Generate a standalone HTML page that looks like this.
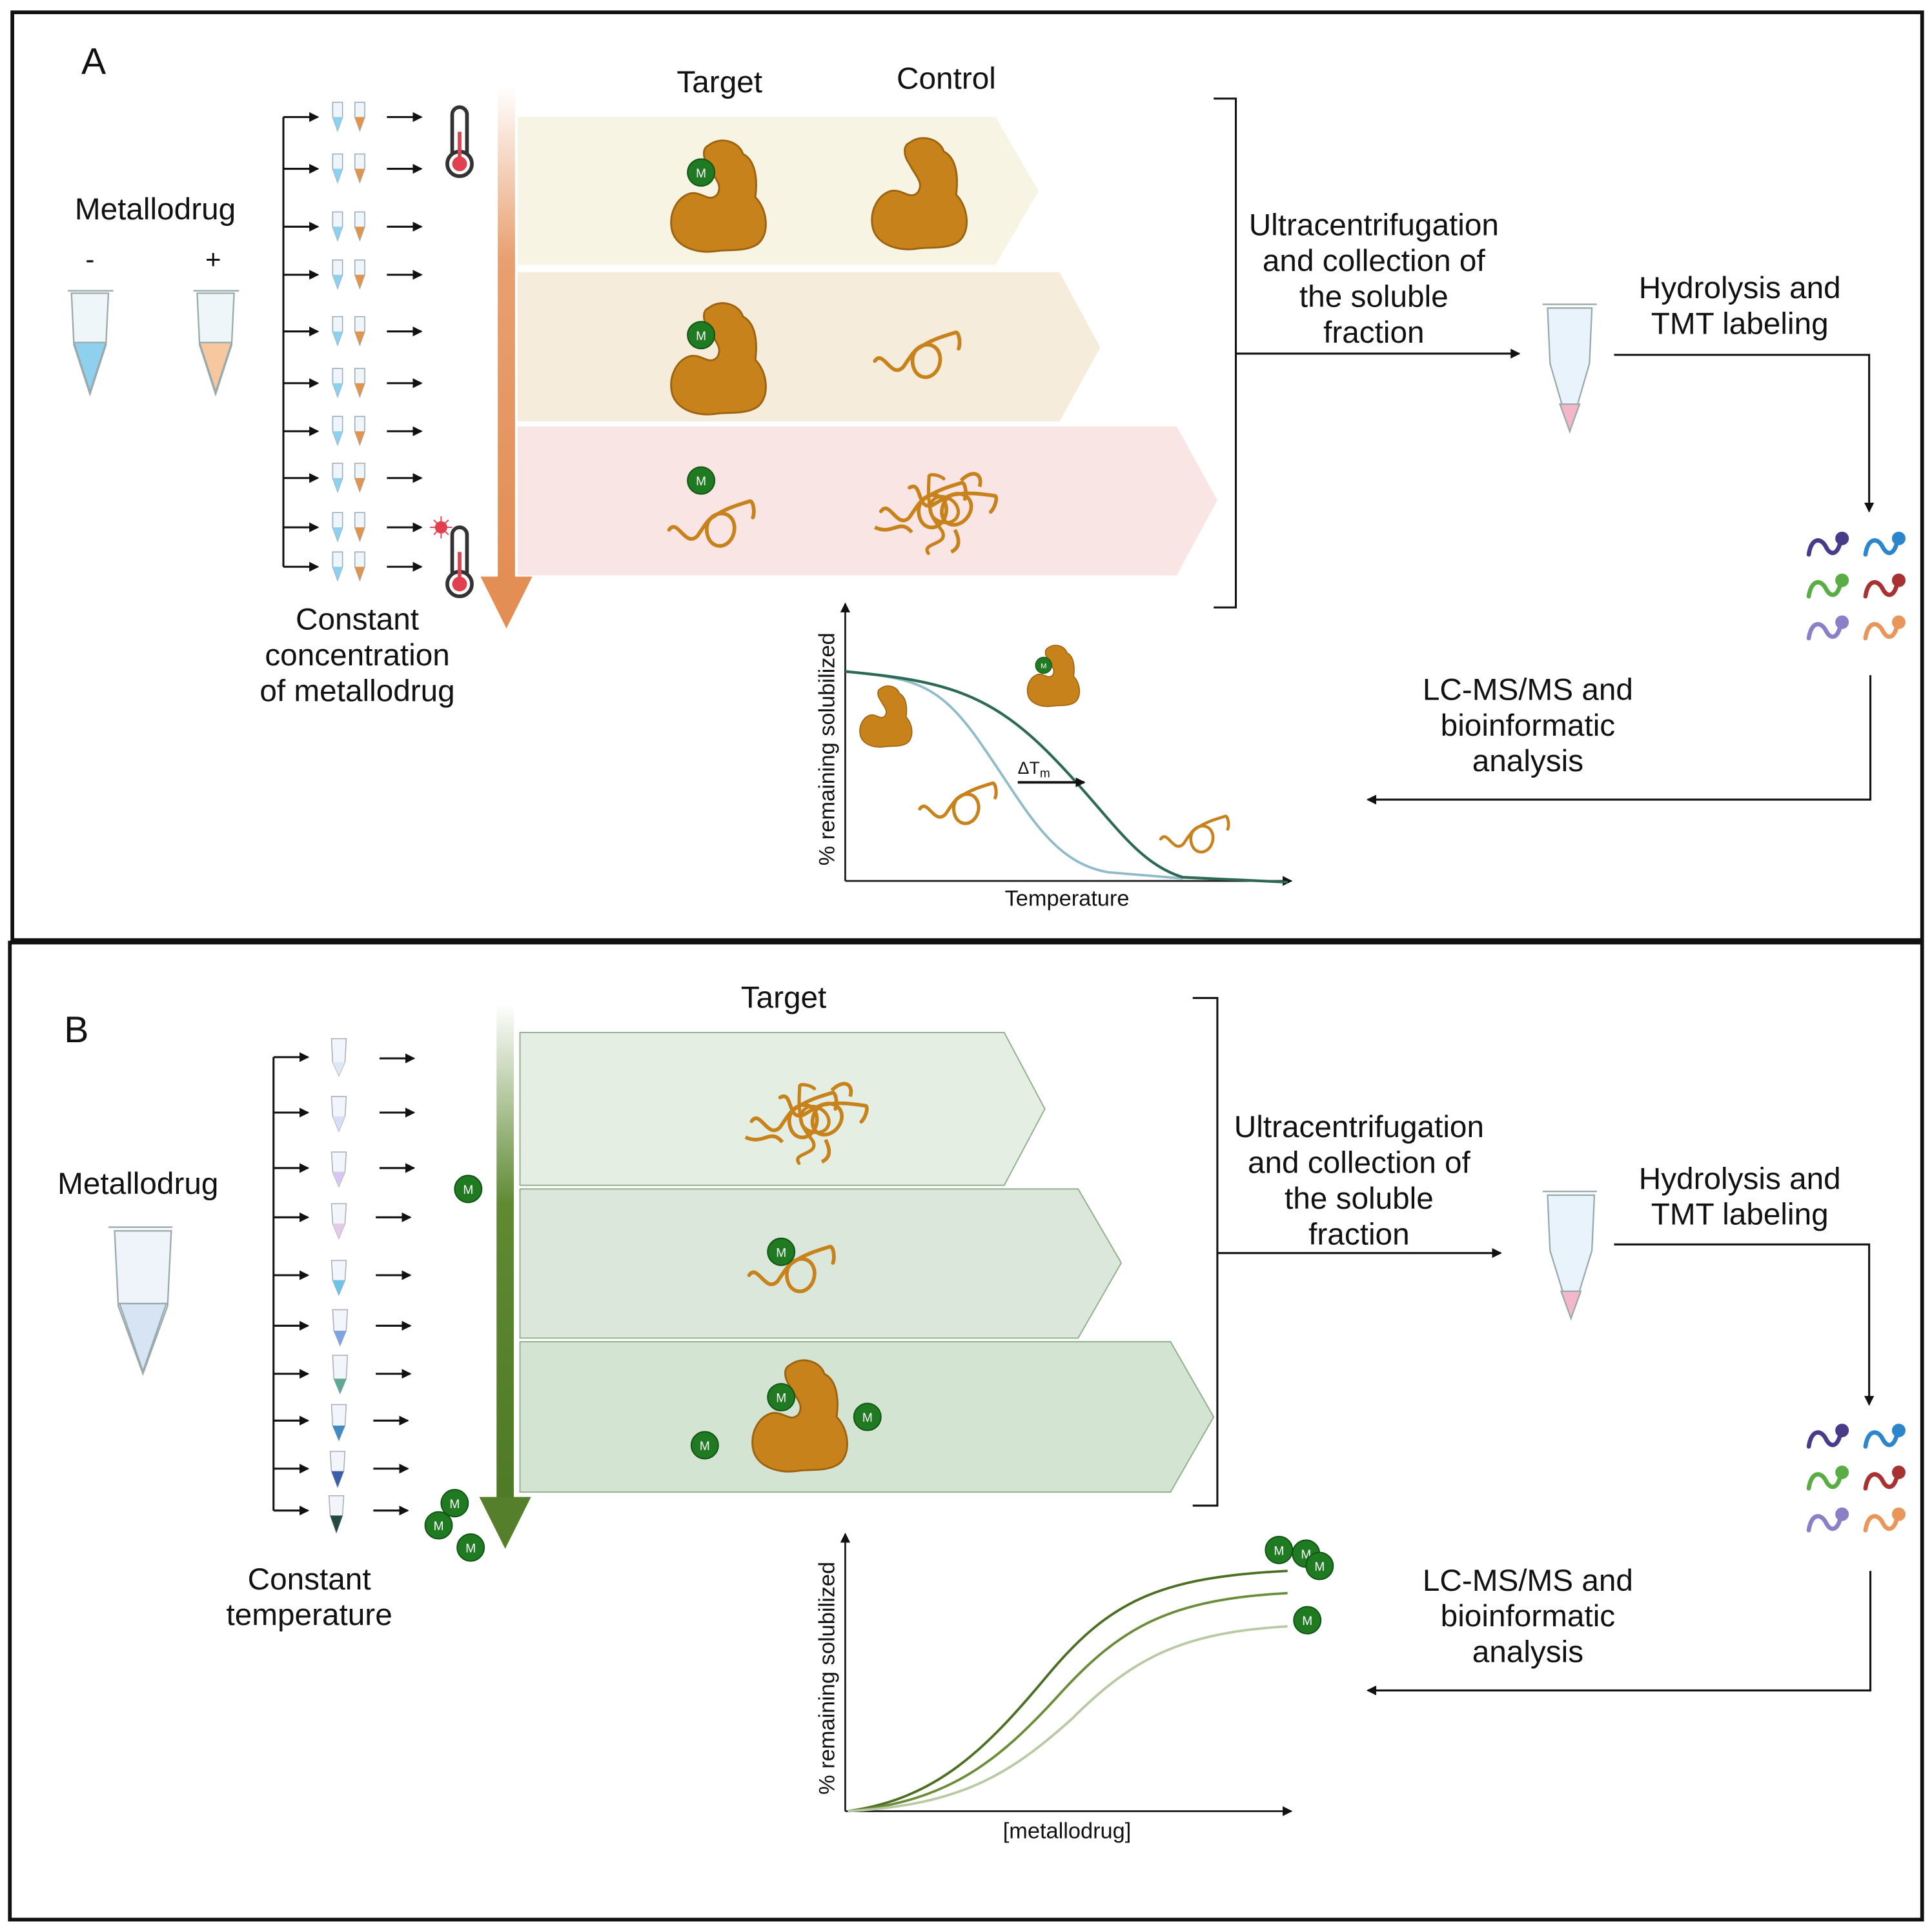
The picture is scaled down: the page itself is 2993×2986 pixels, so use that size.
<!DOCTYPE html>
<html><head><meta charset="utf-8"><style>
html,body{margin:0;padding:0;background:#fff}
svg{display:block}
text{font-family:"Liberation Sans",sans-serif;fill:#111}
</style></head><body>
<svg width="2993" height="2986" viewBox="0 0 1568 1564" preserveAspectRatio="none" xmlns="http://www.w3.org/2000/svg">
<defs>
<marker id="ah" markerWidth="8" markerHeight="8" refX="7" refY="4" orient="auto" markerUnits="userSpaceOnUse"><path d="M0,0 L8,4 L0,8 Z" fill="#111"/></marker>
<linearGradient id="og" x1="0" y1="0" x2="0" y2="1"><stop offset="0" stop-color="#fff"/><stop offset="0.35" stop-color="#e8a070"/><stop offset="1" stop-color="#e38e55"/></linearGradient>
<linearGradient id="gg" x1="0" y1="0" x2="0" y2="1"><stop offset="0" stop-color="#fff"/><stop offset="0.4" stop-color="#5f8a32"/><stop offset="1" stop-color="#4f7a25"/></linearGradient>
<g id="blob"><path d="M-10,-42 C0,-50 15,-45 18,-35 C28,-30 30,-15 28,0 C38,10 40,30 30,38 C20,45 5,42 -5,44 C-20,46 -38,40 -40,25 C-42,12 -35,0 -25,-3 C-15,-5 -10,5 -3,-2 C2,-10 -5,-15 -10,-25 C-15,-32 -15,-40 -10,-42 Z" fill="#c8821c" stroke="#9c620e" stroke-width="1.5"/></g>
<g id="sq"><path d="M-35,5 C-28,-5 -22,20 -12,10 C-5,0 0,-10 10,-8 C22,-5 20,15 8,18 C-5,20 -8,0 0,-5 C10,-12 20,-15 30,-18 C33,-20 35,-10 33,-5" fill="none" stroke="#c8821c" stroke-width="3" stroke-linecap="round"/></g>
<g id="tang"><use href="#sq"/><use href="#sq" transform="translate(22,-4) rotate(25)"/><use href="#sq" transform="translate(10,8) rotate(-70) scale(0.9)"/><path d="M-40,18 C-25,25 -20,10 -10,22 M30,-20 C40,-30 48,-25 45,-15 M25,20 C30,30 28,35 22,38" fill="none" stroke="#c8821c" stroke-width="3"/></g>
<g id="m"><circle r="11" fill="#1f7a22" stroke="#0f5212" stroke-width="1"/><text y="4" text-anchor="middle" font-size="10" style="fill:#fff">M</text></g>
<g id="pep"><path d="M-14,8 C-12,-6 -4,-6 0,2 C4,10 10,8 12,-4" fill="none" stroke-width="3.5" stroke-linecap="round"/><circle cx="13" cy="-5" r="5"/></g>
<g id="thermo"><rect x="-6" y="-28" width="12" height="44" rx="6" fill="#fff" stroke="#333" stroke-width="3"/><circle cy="18" r="10" fill="#fff" stroke="#333" stroke-width="3"/><circle cy="18" r="6" fill="#e04050"/><rect x="-1.5" y="-8" width="3" height="26" fill="#e04050"/></g>
</defs>
<rect x="0" y="0" width="1568" height="1564" fill="#fff"/>
<rect x="10" y="10" width="1550" height="753" fill="none" stroke="#111" stroke-width="3"/>
<rect x="8" y="765" width="1552" height="793" fill="none" stroke="#111" stroke-width="3"/>

<!-- PANEL A -->
<text x="66" y="60" font-size="30">A</text>
<text x="126" y="178" font-size="25" text-anchor="middle">Metallodrug</text>
<text x="73" y="218" font-size="22" text-anchor="middle">-</text>
<text x="173" y="218" font-size="22" text-anchor="middle">+</text>
<g stroke="#9aa" stroke-width="1.2">
<path d="M55,236 H92 M58,238 L60,280 L73,320 L86,280 L88,238 Z" fill="#eef6fa"/>
<path d="M60,278 L73,318 L86,278 Z" fill="#8fd0ee"/>
<path d="M157,236 H194 M160,238 L162,280 L175,320 L188,280 L190,238 Z" fill="#eef6fa"/>
<path d="M162,278 L175,318 L188,278 Z" fill="#f7c7a0"/>
</g>
<path d="M230,95 V460" fill="none" stroke="#111" stroke-width="1.6"/>
<g stroke="#111" stroke-width="1.6">
<line x1="230" y1="95" x2="258" y2="95" marker-end="url(#ah)"/><line x1="230" y1="137" x2="258" y2="137" marker-end="url(#ah)"/><line x1="230" y1="184" x2="258" y2="184" marker-end="url(#ah)"/><line x1="230" y1="223" x2="258" y2="223" marker-end="url(#ah)"/><line x1="230" y1="269" x2="258" y2="269" marker-end="url(#ah)"/><line x1="230" y1="311" x2="258" y2="311" marker-end="url(#ah)"/><line x1="230" y1="350" x2="258" y2="350" marker-end="url(#ah)"/><line x1="230" y1="388" x2="258" y2="388" marker-end="url(#ah)"/><line x1="230" y1="428" x2="258" y2="428" marker-end="url(#ah)"/><line x1="230" y1="460" x2="258" y2="460" marker-end="url(#ah)"/>
<line x1="314" y1="95" x2="342" y2="95" marker-end="url(#ah)"/><line x1="314" y1="137" x2="342" y2="137" marker-end="url(#ah)"/><line x1="314" y1="184" x2="342" y2="184" marker-end="url(#ah)"/><line x1="314" y1="223" x2="342" y2="223" marker-end="url(#ah)"/><line x1="314" y1="269" x2="342" y2="269" marker-end="url(#ah)"/><line x1="314" y1="311" x2="342" y2="311" marker-end="url(#ah)"/><line x1="314" y1="350" x2="342" y2="350" marker-end="url(#ah)"/><line x1="314" y1="388" x2="342" y2="388" marker-end="url(#ah)"/><line x1="314" y1="428" x2="342" y2="428" marker-end="url(#ah)"/><line x1="314" y1="460" x2="342" y2="460" marker-end="url(#ah)"/>
</g>
<g id="pairA">
<path d="M270,83 L278,83 L278,95 L274,106 L270,95 Z" fill="#eef6fa" stroke="#9ab" stroke-width="0.8"/><path d="M270,95 L278,95 L274,106 Z" fill="#8fd0ee"/>
<path d="M288,83 L296,83 L296,95 L292,106 L288,95 Z" fill="#eef6fa" stroke="#9ab" stroke-width="0.8"/><path d="M288,95 L296,95 L292,106 Z" fill="#e0954f"/>
</g>
<use href="#pairA" y="42"/><use href="#pairA" y="89"/><use href="#pairA" y="128"/><use href="#pairA" y="174"/><use href="#pairA" y="216"/><use href="#pairA" y="255"/><use href="#pairA" y="293"/><use href="#pairA" y="333"/><use href="#pairA" y="365"/>
<use href="#thermo" x="373" y="115"/><use href="#thermo" x="373" y="456"/>
<circle cx="358" cy="428" r="5" fill="#e04050"/><g stroke="#e04050" stroke-width="1"><path d="M358,419 V437 M349,428 H367 M352,422 L364,434 M364,422 L352,434"/></g>
<text font-size="25" text-anchor="middle"><tspan x="290" y="511">Constant</tspan><tspan x="290" y="540">concentration</tspan><tspan x="290" y="569">of metallodrug</tspan></text>
<rect x="404" y="70" width="14" height="400" fill="url(#og)"/>
<path d="M390,468 L432,468 L411,510 Z" fill="#e38e55"/>
<path d="M420,95 L808,95 L843,155 L808,215 L420,215 Z" fill="#f8f4e3"/>
<path d="M420,221 L860,221 L893,282 L860,342 L420,342 Z" fill="#f5ecdc"/>
<path d="M420,346 L955,346 L988,406 L955,467 L420,467 Z" fill="#f9e6e4"/>
<text x="584" y="75" font-size="25" text-anchor="middle">Target</text>
<text x="768" y="72" font-size="25" text-anchor="middle">Control</text>
<use href="#blob" x="585" y="160"/><use href="#m" x="569" y="140"/>
<use href="#blob" x="748" y="158"/>
<use href="#blob" x="585" y="292"/><use href="#m" x="569" y="272"/>
<use href="#sq" x="745" y="288"/>
<use href="#m" x="569" y="390"/><use href="#sq" x="578" y="425"/>
<use href="#tang" x="750" y="410"/>
<path d="M985,80 H1003 V493 H985" fill="none" stroke="#111" stroke-width="1.6"/>
<text font-size="25" text-anchor="middle"><tspan x="1115" y="191">Ultracentrifugation</tspan><tspan x="1115" y="220">and collection of</tspan><tspan x="1115" y="249">the soluble</tspan><tspan x="1115" y="278">fraction</tspan></text>
<line x1="1003" y1="287" x2="1233" y2="287" stroke="#111" stroke-width="1.6" marker-end="url(#ah)"/>
<g stroke="#9aa" stroke-width="1.2"><path d="M1252,247 H1296 M1256,250 L1258,295 L1274,350 L1290,295 L1292,250 Z" fill="#e9f3fb"/><path d="M1266,328 L1274,350 L1282,328 Z" fill="#f4b7c9"/></g>
<text font-size="25" text-anchor="middle"><tspan x="1412" y="242">Hydrolysis and</tspan><tspan x="1412" y="271">TMT labeling</tspan></text>
<path d="M1310,288 H1517 V415" fill="none" stroke="#111" stroke-width="1.6" marker-end="url(#ah)"/>
<g id="peps"><use href="#pep" x="1482" y="442" stroke="#4a3a8a" fill="#4a3a8a"/><use href="#pep" x="1528" y="442" stroke="#2d86cc" fill="#2d86cc"/><use href="#pep" x="1482" y="476" stroke="#5aad45" fill="#5aad45"/><use href="#pep" x="1528" y="476" stroke="#a83232" fill="#a83232"/><use href="#pep" x="1482" y="510" stroke="#8a80c8" fill="#8a80c8"/><use href="#pep" x="1528" y="510" stroke="#e8965a" fill="#e8965a"/></g>
<text font-size="25" text-anchor="middle"><tspan x="1240" y="568">LC-MS/MS and</tspan><tspan x="1240" y="597">bioinformatic</tspan><tspan x="1240" y="626">analysis</tspan></text>
<path d="M1518,548 V649 H1110" fill="none" stroke="#111" stroke-width="1.6" marker-end="url(#ah)"/>
<line x1="686" y1="715" x2="686" y2="490" stroke="#222" stroke-width="1.5" marker-end="url(#ah)"/>
<line x1="686" y1="715" x2="1048" y2="715" stroke="#222" stroke-width="1.5" marker-end="url(#ah)"/>
<text transform="translate(677,608) rotate(-90)" font-size="18" text-anchor="middle">% remaining solubilized</text>
<text x="866" y="735" font-size="18" text-anchor="middle">Temperature</text>
<path d="M686,545 C740,550 760,555 790,595 C830,650 850,700 900,708 L960,713" fill="none" stroke="#8fbcc8" stroke-width="2"/>
<path d="M686,545 C760,552 800,560 850,610 C900,660 920,700 960,712 L1045,716" fill="none" stroke="#2d6a55" stroke-width="2.2"/>
<line x1="826" y1="635" x2="880" y2="635" stroke="#111" stroke-width="2" marker-end="url(#ah)"/>
<text x="826" y="628" font-size="14">ΔT<tspan font-size="10" dy="3">m</tspan></text>
<use href="#blob" transform="translate(720,582) scale(0.55)"/>
<use href="#blob" transform="translate(856,549) scale(0.55)"/><use href="#m" transform="translate(847,540) scale(0.6)"/>
<use href="#sq" transform="translate(778,652) scale(0.9)"/>
<use href="#sq" transform="translate(970,677) scale(0.8)"/>

<!-- PANEL B -->
<text x="52" y="846" font-size="30">B</text>
<text x="112" y="969" font-size="25" text-anchor="middle">Metallodrug</text>
<g stroke="#9aa" stroke-width="1.2"><path d="M88,996 H140 M93,999 L96,1060 L116,1115 L136,1060 L139,999 Z" fill="#eef4fa"/><path d="M97,1058 L116,1113 L135,1058 Z" fill="#d6e4f4"/></g>
<path d="M222,858 V1226" fill="none" stroke="#111" stroke-width="1.6"/>
<g stroke="#111" stroke-width="1.6">
<line x1="222" y1="858" x2="250" y2="858" marker-end="url(#ah)"/><line x1="222" y1="903" x2="250" y2="903" marker-end="url(#ah)"/><line x1="222" y1="948" x2="250" y2="948" marker-end="url(#ah)"/><line x1="222" y1="988" x2="250" y2="988" marker-end="url(#ah)"/><line x1="222" y1="1035" x2="250" y2="1035" marker-end="url(#ah)"/><line x1="222" y1="1076" x2="250" y2="1076" marker-end="url(#ah)"/><line x1="222" y1="1115" x2="250" y2="1115" marker-end="url(#ah)"/><line x1="222" y1="1153" x2="250" y2="1153" marker-end="url(#ah)"/><line x1="222" y1="1192" x2="250" y2="1192" marker-end="url(#ah)"/><line x1="222" y1="1226" x2="250" y2="1226" marker-end="url(#ah)"/>
<line x1="308" y1="859" x2="336" y2="859" marker-end="url(#ah)"/><line x1="308" y1="903" x2="336" y2="903" marker-end="url(#ah)"/><line x1="308" y1="948" x2="336" y2="948" marker-end="url(#ah)"/><line x1="305" y1="988" x2="333" y2="988" marker-end="url(#ah)"/><line x1="305" y1="1035" x2="333" y2="1035" marker-end="url(#ah)"/><line x1="305" y1="1076" x2="333" y2="1076" marker-end="url(#ah)"/><line x1="305" y1="1115" x2="333" y2="1115" marker-end="url(#ah)"/><line x1="303" y1="1153" x2="331" y2="1153" marker-end="url(#ah)"/><line x1="303" y1="1192" x2="331" y2="1192" marker-end="url(#ah)"/><line x1="303" y1="1226" x2="331" y2="1226" marker-end="url(#ah)"/>
</g>
<g stroke="#aab" stroke-width="0.8">
<path d="M269,843 H281 L280,862 L275,873 L270,862 Z" fill="#f2f6fa"/><path d="M270,862 L280,862 L275,873 Z" fill="#dde8f5" stroke="none"/>
<path d="M269,890 H281 L280,906 L275,918 L270,906 Z" fill="#f2f6fa"/><path d="M270,906 L280,906 L275,918 Z" fill="#d8def8" stroke="none"/>
<path d="M269,935 H281 L280,951 L275,963 L270,951 Z" fill="#f2f6fa"/><path d="M270,951 L280,951 L275,963 Z" fill="#d6c8ee" stroke="none"/>
<path d="M269,977 H281 L280,993 L275,1005 L270,993 Z" fill="#f2f6fa"/><path d="M270,993 L280,993 L275,1005 Z" fill="#e2cce8" stroke="none"/>
<path d="M269,1023 H281 L280,1039 L275,1051 L270,1039 Z" fill="#f2f6fa"/><path d="M270,1039 L280,1039 L275,1051 Z" fill="#6ec4e6" stroke="none"/>
<path d="M270,1063 H282 L281,1080 L276,1092 L271,1080 Z" fill="#f2f6fa"/><path d="M271,1080 L281,1080 L276,1092 Z" fill="#7fa4e0" stroke="none"/>
<path d="M270,1100 H282 L281,1119 L276,1131 L271,1119 Z" fill="#f2f6fa"/><path d="M271,1119 L281,1119 L276,1131 Z" fill="#5fa898" stroke="none"/>
<path d="M269,1140 H281 L280,1157 L275,1169 L270,1157 Z" fill="#f2f6fa"/><path d="M270,1157 L280,1157 L275,1169 Z" fill="#3e8cc0" stroke="none"/>
<path d="M268,1178 H280 L279,1194 L274,1207 L269,1194 Z" fill="#f2f6fa"/><path d="M269,1194 L279,1194 L274,1207 Z" fill="#3c5ea8" stroke="none"/>
<path d="M267,1214 H279 L278,1230 L273,1244 L268,1230 Z" fill="#f2f6fa"/><path d="M268,1230 L278,1230 L273,1244 Z" fill="#244a40" stroke="none"/>
</g>
<text font-size="25" text-anchor="middle"><tspan x="251" y="1290">Constant</tspan><tspan x="251" y="1319">temperature</tspan></text>
<use href="#m" x="380" y="965"/>
<use href="#m" x="369" y="1220"/><use href="#m" x="356" y="1238"/><use href="#m" x="382" y="1256"/>
<rect x="403" y="815" width="14" height="405" fill="url(#gg)"/>
<path d="M389,1215 L431,1215 L410,1257 Z" fill="#557f2a"/>
<g stroke="#8fae8c" stroke-width="1">
<path d="M422,838 L815,838 L848,900 L815,962 L422,962 Z" fill="#e4eee3"/>
<path d="M422,965 L875,965 L910,1025 L875,1086 L422,1086 Z" fill="#dbe7da"/>
<path d="M422,1089 L950,1089 L985,1150 L950,1211 L422,1211 Z" fill="#d4e4d3"/>
</g>
<text x="636" y="818" font-size="25" text-anchor="middle">Target</text>
<use href="#tang" x="645" y="905"/>
<use href="#sq" x="643" y="1030"/><use href="#m" x="634" y="1016"/>
<use href="#blob" x="651" y="1150"/><use href="#m" x="634" y="1134"/><use href="#m" x="704" y="1150"/><use href="#m" x="572" y="1173"/>
<path d="M968,810 H988 V1222 H968" fill="none" stroke="#111" stroke-width="1.6"/>
<text font-size="25" text-anchor="middle"><tspan x="1103" y="923">Ultracentrifugation</tspan><tspan x="1103" y="952">and collection of</tspan><tspan x="1103" y="981">the soluble</tspan><tspan x="1103" y="1010">fraction</tspan></text>
<line x1="988" y1="1017" x2="1218" y2="1017" stroke="#111" stroke-width="1.6" marker-end="url(#ah)"/>
<g stroke="#9aa" stroke-width="1.2"><path d="M1252,967 H1296 M1256,970 L1258,1015 L1275,1070 L1292,1015 L1294,970 Z" fill="#e9f3fb"/><path d="M1267,1048 L1275,1070 L1283,1048 Z" fill="#f4b7c9"/></g>
<text font-size="25" text-anchor="middle"><tspan x="1412" y="965">Hydrolysis and</tspan><tspan x="1412" y="994">TMT labeling</tspan></text>
<path d="M1310,1010 H1517 V1140" fill="none" stroke="#111" stroke-width="1.6" marker-end="url(#ah)"/>
<use href="#peps" y="724"/>
<text font-size="25" text-anchor="middle"><tspan x="1240" y="1291">LC-MS/MS and</tspan><tspan x="1240" y="1320">bioinformatic</tspan><tspan x="1240" y="1349">analysis</tspan></text>
<path d="M1518,1275 V1372 H1110" fill="none" stroke="#111" stroke-width="1.6" marker-end="url(#ah)"/>
<line x1="686" y1="1470" x2="686" y2="1245" stroke="#222" stroke-width="1.5" marker-end="url(#ah)"/>
<line x1="686" y1="1470" x2="1048" y2="1470" stroke="#222" stroke-width="1.5" marker-end="url(#ah)"/>
<text transform="translate(677,1362) rotate(-90)" font-size="18" text-anchor="middle">% remaining solubilized</text>
<text x="866" y="1492" font-size="18" text-anchor="middle">[metallodrug]</text>
<path d="M688,1470 C760,1460 800,1420 850,1360 C900,1300 940,1280 1045,1275" fill="none" stroke="#4a6e22" stroke-width="2"/>
<path d="M688,1470 C770,1462 810,1430 860,1375 C910,1320 950,1298 1045,1293" fill="none" stroke="#6b8d3a" stroke-width="2"/>
<path d="M688,1470 C780,1465 820,1440 870,1395 C920,1345 960,1325 1045,1320" fill="none" stroke="#b8caa4" stroke-width="2"/>
<use href="#m" x="1038" y="1258"/><use href="#m" x="1060" y="1261"/><use href="#m" x="1071" y="1271"/><use href="#m" x="1061" y="1315"/>
</svg>
</body></html>
